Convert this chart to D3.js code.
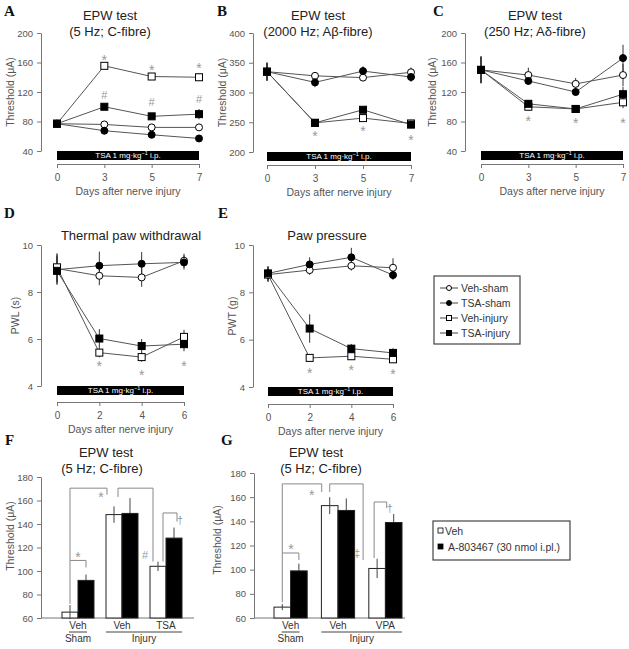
<!DOCTYPE html>
<html><head><meta charset="utf-8">
<script src="https://cdn.jsdelivr.net/npm/d3@7"></script>
<style>body{margin:0;background:#fff}</style>
</head><body><svg id="c" width="629" height="649" xmlns="http://www.w3.org/2000/svg"></svg>
<script>
// ---------------- DATA ----------------
const daysABC = ["0","3","5","7"];
const daysDE = ["0","2","4","6"];
const seriesNames = ["Veh-sham","TSA-sham","Veh-injury","TSA-injury"];

// A: EPW 5 Hz
const aVehSham = [77,76,72,72];
const aTsaSham = [77,67.5,62,57];
const aVehInj  = [77,155.5,141,140];
const aTsaInj  = [77,100,87,90];
const aVehShamErr = [2,2,2,2];
const aTsaShamErr = [2,2,2,2];
const aVehInjErr  = [2,4,4,5];
const aTsaInjErr  = [2,4,3,7];
const aStarY = [null,168,154,157];
const aHashY = [null,116,106,110];
const aTicks = [40,80,120,160,200];

// B: EPW 2000 Hz
const bVehSham = [335,328,325,334];
const bTsaSham = [335,317,336,326];
const bVehInj  = [335,249,257,248];
const bTsaInj  = [335,249,271,246];
const bVehShamErr = [15,4,4,8];
const bTsaShamErr = [15,8,8,8];
const bVehInjErr  = [15,4,4,6];
const bTsaInjErr  = [15,4,5,6];
const bStarY = [null,232,240,225];
const bTicks = [200,250,300,350,400];

// C: EPW 250 Hz
const cVehSham = [150,143,131,143];
const cTsaSham = [150,135,120,166];
const cVehInj  = [150,100,97,106];
const cTsaInj  = [150,104,97,117];
const cVehShamErr = [18,10,8,15];
const cTsaShamErr = [18,5,5,18];
const cVehInjErr  = [18,5,4,8];
const cTsaInjErr  = [18,5,4,10];
const cStarY = [null,85,82,82];
const cTicks = [40,80,120,160,200];

// D: thermal paw withdrawal (PWL, s)
const dVehSham = [9.0,8.69,8.62,9.33];
const dTsaSham = [8.95,9.12,9.2,9.26];
const dVehInj  = [9.05,5.42,5.23,6.09];
const dTsaInj  = [8.9,6.02,5.7,5.78];
const dVehShamErr = [0.6,0.4,0.4,0.3];
const dTsaShamErr = [0.6,0.6,0.5,0.3];
const dVehInjErr  = [0.6,0.2,0.2,0.3];
const dTsaInjErr  = [0.6,0.4,0.3,0.3];
const dStarY = [null,4.98,4.6,4.98];
const dTicks = [4,6,8,10];

// E: paw pressure (PWT, g)
const eVehSham = [8.75,8.94,9.12,9.04];
const eTsaSham = [8.8,9.18,9.48,8.73];
const eVehInj  = [8.75,5.23,5.3,5.17];
const eTsaInj  = [8.8,6.47,5.62,5.44];
const eVehShamErr = [0.3,0.2,0.2,0.4];
const eTsaShamErr = [0.3,0.3,0.4,0.2];
const eVehInjErr  = [0.3,0.15,0.15,0.15];
const eTsaInjErr  = [0.3,0.6,0.2,0.2];
const eStarY = [null,4.72,4.85,4.68];
const eTicks = [4,6,8,10];

// F / G: bar charts
const barSub = ["Veh","A-803467 (30 nmol i.pl.)"];
const fGroups = ["Sham Veh","Injury Veh","Injury TSA"];
const fLabels = ["Veh","Veh","TSA"];
const fVeh = [65,148,104];
const fA   = [92,149,128];
const fVehErr = [6,7,4];
const fAErr   = [5,13,9];
const gGroups = ["Sham Veh","Injury Veh","Injury VPA"];
const gLabels = ["Veh","Veh","VPA"];
const gVeh = [69,153,101];
const gA   = [99,149,139];
const gVehErr = [2.5,7,8];
const gAErr   = [6,10,7];
const barTicks = [60,80,100,120,140,160,180];

// ---------------- DRAWING ----------------
const svg = d3.select("#c");
const FONT = '"Liberation Sans", Arial, Helvetica, sans-serif';
const SERIF = '"Liberation Serif", "Times New Roman", serif';
const AX = "#777", TK = "#555", TXT = "#222", LINE = "#555", SIG = "#999";
const fmt = d3.format("~g");

function txt(x,y,s,size,opts={}){
  const t = svg.append("text").attr("x",x).attr("y",y).attr("font-family",opts.serif?SERIF:FONT)
    .attr("font-size",size).attr("fill",opts.fill||TXT).attr("text-anchor",opts.anchor||"middle").text(s);
  if(opts.bold) t.attr("font-weight","bold");
  return t;
}
function letter(s,x,y){ txt(x,y,s,15,{serif:true,bold:true,anchor:"start",fill:"#111"}); }
function styleAxis(g){
  g.attr("font-family",FONT).attr("font-size",9.5);
  g.selectAll("path,line").attr("stroke",AX);
  g.selectAll("text").attr("fill",TK);
}
function yLabel(s,x,y){
  svg.append("text").attr("transform",`translate(${x},${y}) rotate(-90)`).attr("text-anchor","middle")
    .attr("dominant-baseline","central").attr("font-family",FONT).attr("font-size",10.5).attr("fill",TK).text(s);
}
function sig(x,cy,ch){
  if(ch==="*") txt(x,cy+0.58*14,"*",14,{fill:SIG});
  else txt(x,cy+0.36*11,ch,11,{fill:SIG});
}
function tsaBar(x0,x1,y0,h){
  svg.append("rect").attr("x",x0).attr("y",y0).attr("width",x1-x0).attr("height",h).attr("fill","#000");
  const t = svg.append("text").attr("x",(x0+x1)/2).attr("y",y0+h-2).attr("text-anchor","middle")
    .attr("font-family",FONT).attr("font-size",8).attr("fill","#fff");
  t.append("tspan").text("TSA 1 mg\u00b7kg");
  t.append("tspan").attr("font-size",5.5).attr("dy",-3).text("\u22121");
  t.append("tspan").attr("dy",3).text(" i.p.");
}
function marker(g,cx,cy,shape,fill,size){
  if(shape==="circle") g.append("circle").attr("cx",cx).attr("cy",cy).attr("r",size/2)
    .attr("fill",fill).attr("stroke","#000").attr("stroke-width",1);
  else g.append("rect").attr("x",cx-size/2).attr("y",cy-size/2).attr("width",size).attr("height",size)
    .attr("fill",fill).attr("stroke","#000").attr("stroke-width",1);
}

function linePanel(p){
  const x = d3.scalePoint().domain(p.days).range(p.xr);
  const y = d3.scaleLinear().domain(p.yd).range(p.yr);
  const ya = svg.append("g").attr("transform",`translate(${p.yAxisX},0)`)
    .call(d3.axisLeft(y).tickValues(p.ticks).tickFormat(fmt).tickSize(4).tickSizeOuter(0).tickPadding(4));
  styleAxis(ya);
  tsaBar(x(p.days[0]), x(p.days[p.days.length-1]), y(p.yd[0]), p.barH);
  const xa = svg.append("g").attr("transform",`translate(0,${p.axisY})`)
    .call(d3.axisBottom(x).tickSize(4).tickSizeOuter(0).tickPadding(6));
  styleAxis(xa);
  xa.attr("font-size",10);
  txt((p.xr[0]+p.xr[1])/2, p.axisY+31, "Days after nerve injury", 10.5, {fill:TK});
  yLabel(p.ylab, p.ylabX, (p.yr[0]+p.yr[1])/2);
  p.title.forEach((t,i)=>txt(p.titleX, p.titleY[i], t, 13));
  letter(p.letter, p.letterXY[0], p.letterXY[1]);

  const g = svg.append("g");
  const line = d3.line().x((d,i)=>x(p.days[i])).y(d=>y(d));
  p.series.forEach(s=>g.append("path").datum(s.vals).attr("d",line).attr("fill","none")
    .attr("stroke",LINE).attr("stroke-width",1));
  p.series.forEach(s=>s.vals.forEach((v,i)=>{
    g.append("line").attr("x1",x(p.days[i])).attr("x2",x(p.days[i]))
      .attr("y1",y(v-s.errs[i])).attr("y2",y(v+s.errs[i])).attr("stroke","#333").attr("stroke-width",1);
  }));
  p.series.forEach(s=>s.vals.forEach((v,i)=>marker(g,x(p.days[i]),y(v),s.shape,s.fill,7)));
  p.sig.forEach(sg=>sg.ys.forEach((v,i)=>{ if(v!==null) sig(x(p.days[i]), y(v), sg.ch); }));
}

function mkSeries(vs,vse,ts,tse,vi,vie,ti,tie){
  return [
    {vals:vs,errs:vse,shape:"circle",fill:"#fff"},
    {vals:ts,errs:tse,shape:"circle",fill:"#000"},
    {vals:vi,errs:vie,shape:"square",fill:"#fff"},
    {vals:ti,errs:tie,shape:"square",fill:"#000"}
  ];
}

linePanel({days:daysABC, xr:[57,199], yr:[151,33], yd:[40,200], ticks:aTicks, yAxisX:41, barH:9, axisY:164,
  ylab:"Threshold (\u03bcA)", ylabX:10, title:["EPW test","(5 Hz; C-fibre)"], titleX:110, titleY:[20,36],
  letter:"A", letterXY:[4,16],
  series:mkSeries(aVehSham,aVehShamErr,aTsaSham,aTsaShamErr,aVehInj,aVehInjErr,aTsaInj,aTsaInjErr),
  sig:[{ys:aStarY,ch:"*"},{ys:aHashY,ch:"#"}]});
linePanel({days:daysABC, xr:[267,411], yr:[152,33], yd:[200,400], ticks:bTicks, yAxisX:253, barH:9, axisY:165,
  ylab:"Threshold (\u03bcA)", ylabX:222, title:["EPW test","(2000 Hz; A\u03b2-fibre)"], titleX:318, titleY:[20,36],
  letter:"B", letterXY:[217,16],
  series:mkSeries(bVehSham,bVehShamErr,bTsaSham,bTsaShamErr,bVehInj,bVehInjErr,bTsaInj,bTsaInjErr),
  sig:[{ys:bStarY,ch:"*"}]});
linePanel({days:daysABC, xr:[481,623], yr:[151,33], yd:[40,200], ticks:cTicks, yAxisX:465, barH:9, axisY:164,
  ylab:"Threshold (\u03bcA)", ylabX:432, title:["EPW test","(250 Hz; A\u03b4-fibre)"], titleX:535, titleY:[20,36],
  letter:"C", letterXY:[433,16],
  series:mkSeries(cVehSham,cVehShamErr,cTsaSham,cTsaShamErr,cVehInj,cVehInjErr,cTsaInj,cTsaInjErr),
  sig:[{ys:cStarY,ch:"*"}]});
linePanel({days:daysDE, xr:[57,184], yr:[386,245], yd:[4,10], ticks:dTicks, yAxisX:41, barH:9, axisY:402,
  ylab:"PWL (s)", ylabX:15, title:["Thermal paw withdrawal"], titleX:131, titleY:[240],
  letter:"D", letterXY:[4,218],
  series:mkSeries(dVehSham,dVehShamErr,dTsaSham,dTsaShamErr,dVehInj,dVehInjErr,dTsaInj,dTsaInjErr),
  sig:[{ys:dStarY,ch:"*"}]});
linePanel({days:daysDE, xr:[268,393], yr:[387,245], yd:[4,10], ticks:eTicks, yAxisX:253, barH:9, axisY:404,
  ylab:"PWT (g)", ylabX:232, title:["Paw pressure"], titleX:327, titleY:[240],
  letter:"E", letterXY:[218,218],
  series:mkSeries(eVehSham,eVehShamErr,eTsaSham,eTsaShamErr,eVehInj,eVehInjErr,eTsaInj,eTsaInjErr),
  sig:[{ys:eStarY,ch:"*"}]});

// Legend for line panels
(function(){
  const lg = svg.append("g");
  lg.append("rect").attr("x",434).attr("y",276).attr("width",86).attr("height",68)
    .attr("fill","#fff").attr("stroke","#444").attr("stroke-width",1.2);
  const shapes = [["circle","#fff"],["circle","#000"],["square","#fff"],["square","#000"]];
  seriesNames.forEach((n,i)=>{
    const cy = 288 + i*15;
    lg.append("line").attr("x1",440).attr("x2",458).attr("y1",cy).attr("y2",cy).attr("stroke","#444");
    marker(lg,449,cy,shapes[i][0],shapes[i][1],5);
    lg.append("text").attr("x",461).attr("y",cy+4).attr("font-family",FONT).attr("font-size",10.5)
      .attr("fill","#333").text(n);
  });
})();

function barPanel(p){
  const x0 = d3.scaleBand().domain(p.groups).range(p.xr).paddingInner(p.pi);
  const x1 = d3.scaleBand().domain(barSub).range([0,x0.bandwidth()]);
  const y = d3.scaleLinear().domain([60,180]).range(p.yr);
  const ya = svg.append("g").attr("transform",`translate(${p.yAxisX},0)`)
    .call(d3.axisLeft(y).tickValues(barTicks).tickFormat(fmt).tickSize(4).tickSizeOuter(0).tickPadding(4));
  styleAxis(ya);
  svg.append("line").attr("x1",p.yAxisX).attr("x2",p.xEnd).attr("y1",y(60)).attr("y2",y(60)).attr("stroke",AX);
  yLabel("Threshold (\u03bcA)", p.ylabX, p.ylabY);
  p.title.forEach((t,i)=>txt(p.titleX[i], p.titleY[i], t, 13));
  letter(p.letter, p.letterXY[0], p.letterXY[1]);
  const cx = (gi,si)=> x0(p.groups[gi]) + x1(barSub[si]) + x1.bandwidth()/2;
  const g = svg.append("g");
  [p.veh,p.a].forEach((vals,si)=>{
    const errs = si===0?p.vehErr:p.aErr;
    vals.forEach((v,gi)=>{
      const bx = x0(p.groups[gi]) + x1(barSub[si]);
      g.append("line").attr("x1",cx(gi,si)).attr("x2",cx(gi,si)).attr("y1",y(v+errs[gi])).attr("y2",y(v))
        .attr("stroke","#444");
      g.append("rect").attr("x",bx).attr("y",y(v)).attr("width",x1.bandwidth()).attr("height",y(60)-y(v))
        .attr("fill",si===0?"#fff":"#000").attr("stroke","#222").attr("stroke-width",1);
      if(si===0) g.append("line").attr("x1",cx(gi,si)).attr("x2",cx(gi,si)).attr("y1",y(v)).attr("y2",y(v-errs[gi]))
        .attr("stroke","#444");
    });
  });
  p.brackets.forEach(b=>{
    const xa = cx(b.a[0],b.a[1])+b.a[2], xb = cx(b.b[0],b.b[1])+b.b[2];
    svg.append("path").attr("d",`M${xa},${y(b.ya)}V${y(b.top)}H${xb}V${y(b.yb)}`)
      .attr("fill","none").attr("stroke","#888").attr("stroke-width",1);
    sig(xb+b.lab[0], y(b.lab[1]), b.ch);
  });
  const lblY = 629;
  p.labels.forEach((l,gi)=>txt(x0(p.groups[gi])+x0.bandwidth()/2, lblY, l, 10, {fill:"#333"}));
  const c0 = x0(p.groups[0])+x0.bandwidth()/2;
  svg.append("line").attr("x1",c0-9).attr("x2",c0+9).attr("y1",lblY+3).attr("y2",lblY+3).attr("stroke","#444");
  txt(c0, lblY+13, "Sham", 10, {fill:"#333"});
  const l1 = x0(p.groups[1]), r2 = x0(p.groups[2])+x0.bandwidth();
  svg.append("line").attr("x1",l1).attr("x2",r2).attr("y1",lblY+3).attr("y2",lblY+3).attr("stroke","#444");
  txt((l1+r2)/2, lblY+13, "Injury", 10, {fill:"#333"});
}

barPanel({groups:fGroups, labels:fLabels, veh:fVeh, a:fA, vehErr:fVehErr, aErr:fAErr,
  xr:[62,182], pi:0.273, yr:[618,477], yAxisX:41, xEnd:194, ylabX:10, ylabY:536,
  title:["EPW test","(5 Hz; C-fibre)"], titleX:[106,102], titleY:[457,473], letter:"F", letterXY:[5,445],
  brackets:[
    {a:[0,0,0], b:[0,1,0], top:109, ya:72, yb:103, ch:"*", lab:[-8,114.5]},
    {a:[0,0,0], b:[1,0,-7], top:170.5, ya:109, yb:165, ch:"*", lab:[-6,166]},
    {a:[1,0,4], b:[2,0,-5], top:170.5, ya:163, yb:108, ch:"#", lab:[-8,113.6]},
    {a:[2,0,5], b:[2,1,3], top:149.4, ya:108, yb:142, ch:"\u2020", lab:[3,143]}
  ]});
barPanel({groups:gGroups, labels:gLabels, veh:gVeh, a:gA, vehErr:gVehErr, aErr:gAErr,
  xr:[274,402], pi:0.3, yr:[618,473], yAxisX:254, xEnd:405, ylabX:217, ylabY:540,
  title:["EPW test","(5 Hz; C-fibre)"], titleX:[316,321], titleY:[457,473], letter:"G", letterXY:[221,445],
  brackets:[
    {a:[0,0,0], b:[0,1,0], top:113.8, ya:73, yb:108, ch:"*", lab:[-8,119.6]},
    {a:[0,0,0], b:[1,0,-8], top:171, ya:113.8, yb:164.3, ch:"*", lab:[-10,164.3]},
    {a:[1,0,0], b:[2,0,-14], top:171, ya:164.3, yb:108, ch:"\u2021", lab:[-6,113.8]},
    {a:[2,0,-3], b:[2,1,-7], top:156, ya:109.7, yb:151, ch:"\u2020", lab:[3,151]}
  ]});

// Legend for bar panels
(function(){
  const lg = svg.append("g");
  lg.append("rect").attr("x",433).attr("y",521).attr("width",137).attr("height",39)
    .attr("fill","#fff").attr("stroke","#444").attr("stroke-width",1.2);
  const fills = ["#fff","#000"];
  const ys = [531,547];
  barSub.forEach((n,i)=>{
    lg.append("rect").attr("x",438).attr("y",ys[i]-3).attr("width",5).attr("height",5)
      .attr("fill",fills[i]).attr("stroke","#000").attr("stroke-width",0.8);
    lg.append("text").attr("x",i===0?445:448).attr("y",ys[i]+4).attr("font-family",FONT).attr("font-size",10.5)
      .attr("fill","#333").text(n);
  });
})();
</script></body></html>
